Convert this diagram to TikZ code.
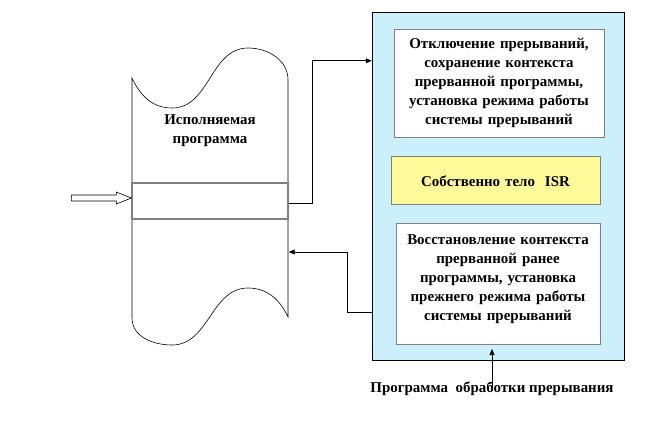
\documentclass[tikz,border=0pt]{standalone}
\usepackage{fontspec}
\setmainfont{Liberation Serif}
\usetikzlibrary{arrows.meta,positioning}

\begin{document}
\begin{tikzpicture}[%
    x=1bp, y=-1bp,              % Coordinates in pixels, top-down
    node distance=18bp,         % Global setup of box spacing
    ]
% -------------------------------------------------
% A few box styles
\tikzset{
  base/.style={align=center, inner sep=0pt,
    font={\fontsize{15}{19}\selectfont\bfseries}},
  box/.style={base, draw=gray, line width=0.8pt, fill=white, text width=200bp},
  frame/.style={draw, line width=0.5pt, fill=cyan!20, minimum width=252bp, minimum height=348bp},
  slot/.style={draw=gray, line width=1.4pt, minimum width=156bp, minimum height=36bp},
  % Connector line styles
  conn/.style={-{Triangle[length=6bp,width=5bp]}, line width=0.6pt},
  hollow/.style={draw, line width=0.6pt, fill=white},
  tape/.style={draw, line width=0.6pt}
}
\useasboundingbox (0,0) rectangle (660,432);
% -------------------------------------------------
% The executed program (punched tape)
\draw[tape] (132,78) to[out=-65,in=180] (172,108) to[out=0,in=180] (248,48)
  to[out=0,in=90] (288,80) -- (288,317) to[out=115,in=0] (248,288)
  to[out=180,in=0] (172,345) to[out=180,in=-90] (132,318) -- cycle;
\node[base] (prog) at (210,131) {Исполняемая\\программа};
\node[slot] (slot) at (210,201) {};

% The interrupt handler frame and its boxes
\node[frame] (fr) at (498,186) {};
\node[box, minimum height=108bp, text width=210bp] (b1) at (499,83)
  {Отключение прерываний,\\сохранение контекста\\прерванной программы,\\установка режима работы\\системы прерываний};
\node[box, fill=yellow!40, minimum height=48bp, text width=209bp,
  below=19bp of b1, xshift=-3.5bp] (b2) {Собственно тело~~ISR};
% extra empty line lifts the text towards the top
\node[box, minimum height=121bp, text width=204bp,
  below=of b2, xshift=2.5bp] (b3)
  {Восстановление контекста\\прерванной ранее\\программы, установка\\прежнего режима работы\\системы прерываний\\[-6bp]\mbox{}};
\node[base, below=21bp of fr.south, xshift=-6bp] (cap) {Программа~~обработки прерывания};
\coordinate (tip) at (cap.north |- 0,349);

% -------------------------------------------------
% Connectors
\draw[hollow] ([yshift=3bp]slot.west) -- ++(-15,-6) -- ++(0,3) -- ++(-45,0)
  -- ++(0,6) -- ++(45,0) -- ++(0,3) -- cycle; % interrupt request
\draw[conn] ([yshift=-2bp]slot.east) -- ++(24,0) |- ([yshift=-49bp]fr.north west);
\draw[conn] ([yshift=48bp]fr.south west) -- ++(-24,0) |- ([yshift=-51bp]slot.east);
\draw[conn] ([yshift=-9bp]cap.north) -- (tip);
\end{tikzpicture}
\end{document}
